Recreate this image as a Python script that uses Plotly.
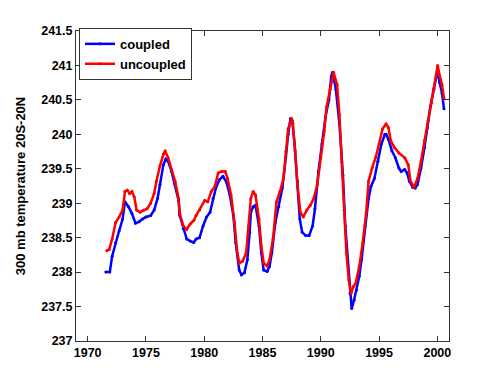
import plotly.graph_objects as go

# (decimal year, temperature K)
coupled_year = [1971.56, 1971.9, 1972.1, 1972.4, 1972.7, 1973.0, 1973.2, 1973.5, 1973.8, 1974.1,
                1974.4, 1974.7, 1975.0, 1975.4, 1975.7, 1976.0, 1976.2, 1976.5, 1976.7, 1976.9,
                1977.2, 1977.5, 1977.8, 1977.9, 1978.2, 1978.5, 1978.8, 1979.1, 1979.3, 1979.6,
                1979.9, 1980.2, 1980.5, 1980.75, 1981.0, 1981.3, 1981.6, 1981.9, 1982.2, 1982.5,
                1982.7, 1983.0, 1983.2, 1983.45, 1983.7, 1983.9, 1984.0, 1984.2, 1984.4, 1984.7,
                1984.9, 1985.1, 1985.4, 1985.6, 1985.8, 1986.1, 1986.4, 1986.7, 1987.0, 1987.2,
                1987.4, 1987.55, 1987.75, 1988.0, 1988.2, 1988.4, 1988.7, 1989.0, 1989.3, 1989.5,
                1989.8, 1990.1, 1990.4, 1990.7, 1990.9, 1991.0, 1991.3, 1991.6, 1991.9, 1992.1,
                1992.3, 1992.5, 1992.65, 1992.85, 1993.07, 1993.3, 1993.5, 1993.8, 1994.1, 1994.3,
                1994.6, 1994.9, 1995.2, 1995.5, 1995.6, 1995.8, 1996.1, 1996.4, 1996.7, 1996.9,
                1997.2, 1997.4, 1997.6, 1997.9, 1998.1, 1998.3, 1998.6, 1998.9, 1999.15, 1999.4,
                1999.7, 2000.0, 2000.2, 2000.4, 2000.57]
coupled_temp = [238.00, 238.00, 238.23, 238.43, 238.60, 238.77, 239.02, 238.95, 238.85, 238.71,
                238.73, 238.77, 238.80, 238.82, 238.90, 239.07, 239.27, 239.56, 239.64, 239.61,
                239.46, 239.27, 239.04, 238.82, 238.63, 238.48, 238.45, 238.43, 238.48, 238.50,
                238.67, 238.80, 238.87, 239.07, 239.22, 239.34, 239.39, 239.31, 239.12, 238.82,
                238.43, 238.03, 237.96, 237.99, 238.18, 238.58, 238.87, 238.95, 238.97, 238.67,
                238.28, 238.03, 238.01, 238.08, 238.28, 238.72, 238.95, 239.22, 239.66, 240.00,
                240.23, 240.20, 239.86, 239.32, 238.77, 238.58, 238.53, 238.53, 238.67, 238.92,
                239.46, 239.86, 240.25, 240.50, 240.84, 240.90, 240.65, 240.15, 239.41, 238.67,
                238.18, 237.69, 237.47, 237.59, 237.74, 237.94, 238.18, 238.67, 239.07, 239.24,
                239.36, 239.61, 239.86, 240.00, 240.00, 239.93, 239.76, 239.66, 239.51, 239.46,
                239.49, 239.44, 239.32, 239.23, 239.22, 239.27, 239.51, 239.81, 240.10, 240.40,
                240.65, 240.92, 240.75, 240.60, 240.37]

uncoupled_year = [1971.64, 1971.85, 1972.1, 1972.4, 1972.7, 1973.0, 1973.2, 1973.4, 1973.6, 1973.8,
                  1974.0, 1974.2, 1974.5, 1974.8, 1975.1, 1975.4, 1975.7, 1975.9, 1976.2, 1976.5,
                  1976.65, 1976.9, 1977.2, 1977.5, 1977.8, 1977.9, 1978.2, 1978.5, 1978.8, 1979.1,
                  1979.3, 1979.6, 1980.05, 1980.3, 1980.6, 1980.9, 1981.2, 1981.5, 1981.8, 1982.0,
                  1982.3, 1982.6, 1982.8, 1983.0, 1983.3, 1983.6, 1983.8, 1984.0, 1984.2, 1984.4,
                  1984.7, 1984.9, 1985.1, 1985.4, 1985.6, 1985.9, 1986.2, 1986.5, 1986.8, 1987.0,
                  1987.2, 1987.5, 1987.6, 1987.8, 1988.0, 1988.25, 1988.5, 1988.8, 1989.1, 1989.4,
                  1989.7, 1990.0, 1990.3, 1990.5, 1990.8, 1991.1, 1991.4, 1991.6, 1991.8, 1992.0,
                  1992.2, 1992.4, 1992.6, 1992.8, 1993.0, 1993.3, 1993.6, 1993.9, 1994.1, 1994.4,
                  1994.7, 1995.0, 1995.3, 1995.6, 1995.8, 1996.0, 1996.3, 1996.7, 1997.2, 1997.5,
                  1997.7, 1998.0, 1998.3, 1998.6, 1998.9, 1999.2, 1999.5, 1999.7, 2000.03, 2000.2,
                  2000.4, 2000.57]
uncoupled_temp = [238.31, 238.33, 238.48, 238.72, 238.80, 238.90, 239.17, 239.19, 239.14, 239.17,
                  239.09, 238.90, 238.87, 238.90, 238.92, 239.00, 239.14, 239.32, 239.54, 239.71,
                  239.76, 239.66, 239.49, 239.32, 239.07, 238.85, 238.67, 238.62, 238.70, 238.75,
                  238.82, 238.90, 239.04, 239.02, 239.17, 239.24, 239.44, 239.46, 239.46, 239.36,
                  239.12, 238.72, 238.33, 238.13, 238.16, 238.28, 238.67, 239.07, 239.17, 239.12,
                  238.77, 238.38, 238.13, 238.09, 238.18, 238.48, 239.02, 239.17, 239.36, 239.75,
                  240.08, 240.23, 240.16, 239.76, 239.27, 238.87, 238.80, 238.90, 238.97, 239.07,
                  239.27, 239.66, 240.05, 240.40, 240.65, 240.90, 240.72, 240.28, 239.60, 238.90,
                  238.28, 237.89, 237.69, 237.79, 237.84, 238.08, 238.43, 238.87, 239.32, 239.51,
                  239.66, 239.86, 240.08, 240.15, 240.10, 239.91, 239.81, 239.73, 239.66, 239.56,
                  239.32, 239.23, 239.36, 239.61, 239.91, 240.20, 240.45, 240.67, 241.00, 240.85,
                  240.72, 240.52]

x_ticks = [1970, 1975, 1980, 1985, 1990, 1995, 2000]
y_ticks = [237, 237.5, 238, 238.5, 239, 239.5, 240, 240.5, 241, 241.5]

fig = go.Figure()
fig.add_trace(go.Scatter(x=coupled_year, y=coupled_temp, mode="lines+markers", name="<b>coupled</b>",
                         line=dict(color="#0000ff", width=2.5), marker=dict(size=3, color="#0000ff")))
fig.add_trace(go.Scatter(x=uncoupled_year, y=uncoupled_temp, mode="lines+markers", name="<b>uncoupled</b>",
                         line=dict(color="#ff0000", width=2.5), marker=dict(size=3, color="#ff0000")))

axis_common = dict(showline=True, linecolor="#333333", linewidth=1, mirror="ticks", ticks="inside",
                   ticklen=5, tickcolor="#333333", showgrid=False, zeroline=False,
                   tickfont=dict(family="Liberation Sans", size=12.5, color="black"))
fig.update_layout(
    width=500, height=375,
    margin=dict(l=65, r=59, t=23, b=42),
    paper_bgcolor="white", plot_bgcolor="white",
    font=dict(family="Liberation Sans", color="black"),
    xaxis=dict(range=[1969, 2001], tickvals=x_ticks, ticktext=["<b>%g</b>" % t for t in x_ticks], **axis_common),
    yaxis=dict(range=[237, 241.5], tickvals=y_ticks, ticktext=["<b>%g</b>" % t for t in y_ticks],
               title=dict(text="<b>300 mb temperature 20S-20N</b>", font=dict(size=13), standoff=12),
               **axis_common),
    legend=dict(x=0.008, y=1.01, xanchor="left", yanchor="top", bordercolor="#333333", borderwidth=1,
                bgcolor="white", font=dict(size=13), tracegroupgap=0, itemwidth=30),
    showlegend=True,
)

fig.write_html("out.html")
